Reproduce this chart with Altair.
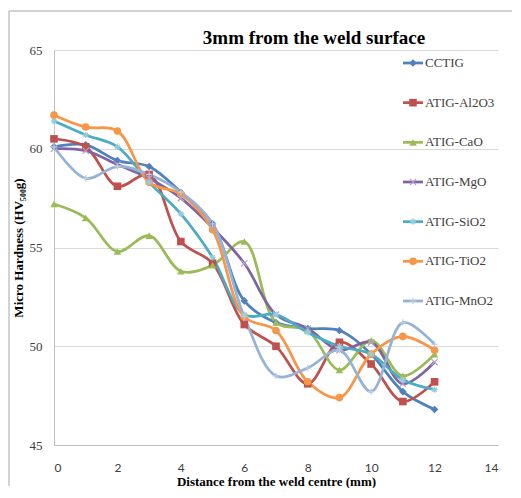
import altair as alt
import pandas as pd

distance = [0, 1, 2, 3, 4, 5, 6, 7, 8, 9, 10, 11, 12]
series_names = ["CCTIG", "ATIG-Al2O3", "ATIG-CaO", "ATIG-MgO", "ATIG-SiO2", "ATIG-TiO2", "ATIG-MnO2"]

cctig = [60.1, 60.2, 59.4, 59.1, 57.8, 56.2, 52.3, 51.2, 50.9, 50.8, 49.6, 47.7, 46.8]
al2o3 = [60.5, 60.1, 58.1, 58.7, 55.3, 54.2, 51.1, 50.0, 48.1, 50.2, 49.1, 47.2, 48.2]
cao = [57.2, 56.5, 54.8, 55.6, 53.8, 54.1, 55.3, 51.2, 50.8, 48.8, 50.3, 48.5, 49.6]
mgo = [60.0, 59.9, 59.2, 58.5, 57.5, 56.0, 54.2, 51.6, 50.9, 49.8, 50.2, 48.1, 49.2]
sio2 = [61.4, 60.7, 60.1, 58.3, 56.7, 54.5, 51.6, 51.6, 50.7, 50.0, 49.6, 48.3, 47.8]
tio2 = [61.7, 61.1, 60.9, 58.3, 57.7, 55.9, 51.5, 50.8, 48.2, 47.4, 49.6, 50.5, 49.8]
mno2 = [60.1, 58.5, 59.1, 58.7, 57.8, 56.2, 51.5, 48.5, 48.9, 49.8, 47.7, 51.2, 50.1]

all_values = [cctig, al2o3, cao, mgo, sio2, tio2, mno2]
chart_title = "3mm from the weld surface"

line_colors = ["#4F81BD", "#C0504D", "#9BBB59", "#8064A2", "#4BACC6", "#F79646", "#95B3D7"]
marker_stroke = ["#4F81BD", "#C0504D", "#9BBB59", "#B3A2C7", "#93CDDD", "#F79646", "#B9CDE5"]
shapes = [
    "diamond", "square", "triangle-up",
    "M-1,-1L1,1M1,-1L-1,1",
    "M-1,0L1,0M0,-1L0,1M-0.7,-0.7L0.7,0.7M0.7,-0.7L-0.7,0.7",
    "circle",
    "M-1,0L1,0M0,-1L0,1",
]
filled_series = ["CCTIG", "ATIG-Al2O3", "ATIG-CaO", "ATIG-TiO2"]
stroked_series = ["ATIG-MgO", "ATIG-SiO2", "ATIG-MnO2"]

rows = []
for name, vals in zip(series_names, all_values):
    for d, v in zip(distance, vals):
        rows.append({"series": name, "distance": d, "hardness": v})
df = pd.DataFrame(rows)
legend_df = pd.DataFrame({"series": series_names})
one_df = pd.DataFrame({"k": [0]})

serif = "Liberation Serif"
color_scale = alt.Scale(domain=series_names, range=line_colors)
stroke_scale = alt.Scale(domain=series_names, range=marker_stroke)
shape_scale = alt.Scale(domain=series_names, range=shapes)

x_enc = alt.X("distance:Q", scale=alt.Scale(domain=[0, 14], nice=False),
              axis=alt.Axis(values=[0, 2, 4, 6, 8, 10, 12, 14], grid=False, ticks=False,
                            domainColor="#BFBFBF", labelFont="Lato", labelFontSize=12,
                            labelColor="#404040", labelPadding=17,
                            title="Distance from the weld centre (mm)", titleFont=serif,
                            titleFontSize=13, titleFontWeight="bold", titleColor="#000000",
                            titlePadding=2))
y_enc = alt.Y("hardness:Q", scale=alt.Scale(domain=[45, 65], nice=False),
              axis=alt.Axis(values=[45, 50, 55, 60, 65], grid=True, gridColor="#D9D9D9",
                            ticks=False, domainColor="#BFBFBF", labelFont=serif,
                            labelFontSize=13, labelColor="#404040", labelPadding=12,
                            title="Micro Hardness (HV₅₀₀g)", titleFont=serif,
                            titleFontSize=13, titleFontWeight="bold", titleColor="#000000",
                            titlePadding=4))

base = alt.Chart(df)
lines = base.mark_line(interpolate="catmull-rom", strokeWidth=2.75).encode(
    x=x_enc, y=y_enc,
    color=alt.Color("series:N", scale=color_scale, legend=None),
    detail="series:N",
)
pts_filled = base.transform_filter(
    alt.FieldOneOfPredicate(field="series", oneOf=filled_series)
).mark_point(filled=True, size=58, opacity=1).encode(
    x="distance:Q", y="hardness:Q",
    color=alt.Color("series:N", scale=color_scale, legend=None),
    shape=alt.Shape("series:N", scale=shape_scale, legend=None),
)
pts_stroked = base.transform_filter(
    alt.FieldOneOfPredicate(field="series", oneOf=stroked_series)
).mark_point(filled=False, size=40, strokeWidth=1.2, opacity=1).encode(
    x="distance:Q", y="hardness:Q",
    stroke=alt.Stroke("series:N", scale=stroke_scale, legend=None),
    shape=alt.Shape("series:N", scale=shape_scale, legend=None),
)
main = alt.layer(lines, pts_filled, pts_stroked)

ly = alt.Y("series:N", sort=series_names,
           scale=alt.Scale(type="point", domain=series_names, range=[13, 251], padding=0),
           axis=None)
lbase = alt.Chart(legend_df)
leg_rule = lbase.mark_rule(strokeWidth=2.75).encode(
    x=alt.value(349), x2=alt.value(369), y=ly,
    color=alt.Color("series:N", scale=color_scale, legend=None),
)
leg_filled = lbase.transform_filter(
    alt.FieldOneOfPredicate(field="series", oneOf=filled_series)
).mark_point(filled=True, size=58, opacity=1).encode(
    x=alt.value(359), y=ly,
    color=alt.Color("series:N", scale=color_scale, legend=None),
    shape=alt.Shape("series:N", scale=shape_scale, legend=None),
)
leg_stroked = lbase.transform_filter(
    alt.FieldOneOfPredicate(field="series", oneOf=stroked_series)
).mark_point(filled=False, size=40, strokeWidth=1.2, opacity=1).encode(
    x=alt.value(359), y=ly,
    stroke=alt.Stroke("series:N", scale=stroke_scale, legend=None),
    shape=alt.Shape("series:N", scale=shape_scale, legend=None),
)
leg_text = lbase.mark_text(align="left", baseline="middle", font=serif, fontSize=13,
                           color="#404040").encode(
    x=alt.value(371), y=ly, text="series:N",
)
legend = alt.layer(leg_rule, leg_filled, leg_stroked, leg_text)

title_mark = alt.Chart(one_df).mark_text(
    align="center", baseline="middle", font=serif, fontSize=19, fontWeight="bold",
    color="#000000", clip=False
).encode(x=alt.value(260), y=alt.value(-12), text=alt.value(chart_title))

frame = alt.Chart(one_df).mark_rule(color="#A6A6A6", strokeWidth=1, clip=False).encode(
    x=alt.value(-45), x2=alt.value(458), y=alt.value(-39)
)
frame_left = alt.Chart(one_df).mark_rule(color="#A6A6A6", strokeWidth=1, clip=False).encode(
    x=alt.value(-45), y=alt.value(-39), y2=alt.value(436)
)

chart = alt.layer(main, legend, title_mark, frame, frame_left).resolve_scale(
    y="independent"
).properties(
    width=444, height=395,
    padding={"left": 0, "top": 2, "right": 0, "bottom": 0},
).configure_view(stroke=None)

chart.save("out.html", embed_options={"renderer": "svg", "actions": False})
